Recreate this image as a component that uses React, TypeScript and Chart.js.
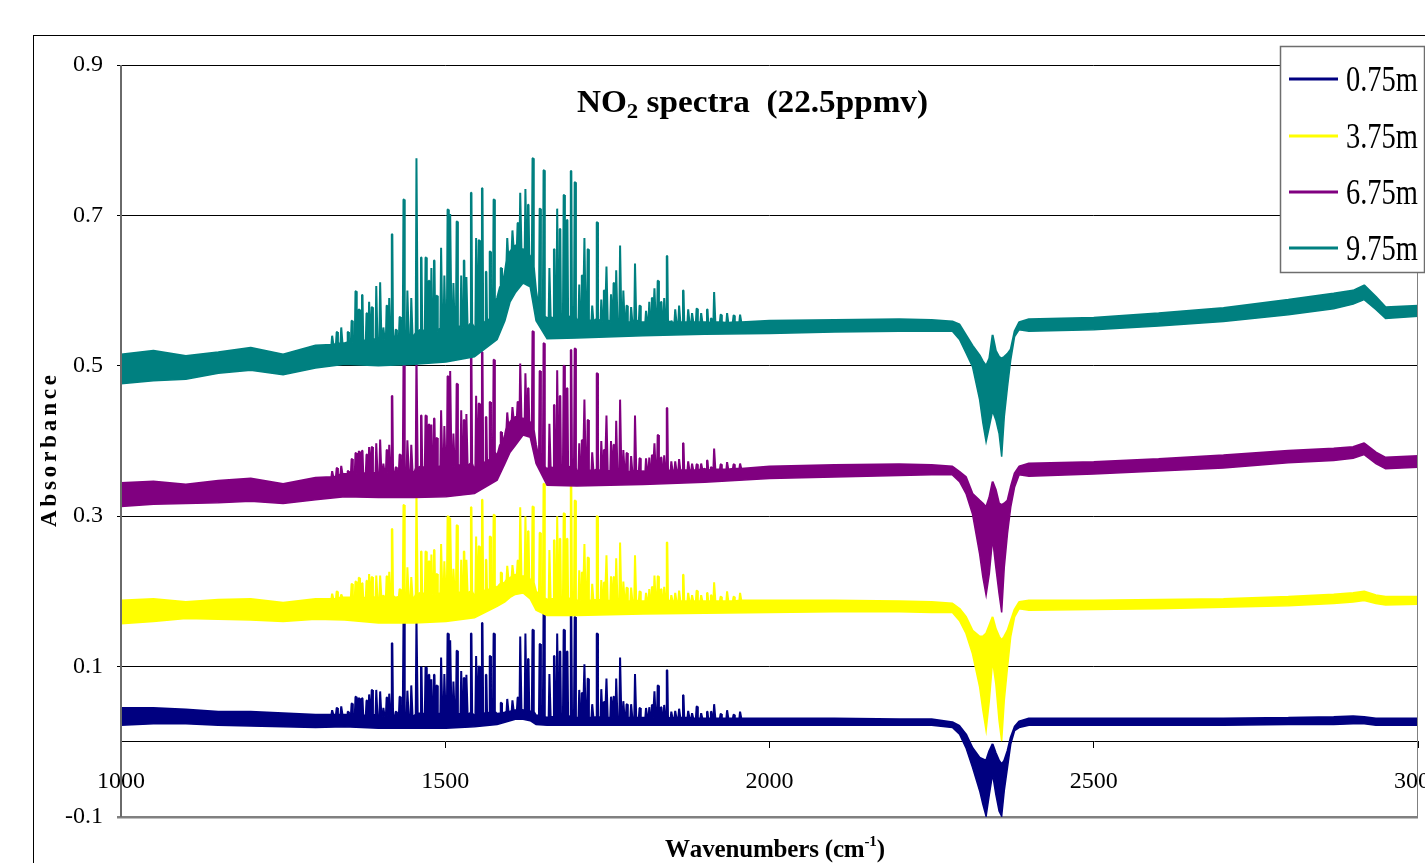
import React, { useEffect, useRef } from "react";
import { Chart, registerables } from "chart.js";

Chart.register(...registerables);

const FONT = "'Liberation Serif', 'Times New Roman', Times, serif";

const seriesLabels = ["0.75m", "3.75m", "6.75m", "9.75m"];
const seriesColors = ["#000080", "#FFFF00", "#800080", "#008080"];

const xTickValues = [1000, 1500, 2000, 2500, 3000];
const yTickValues = [-0.1, 0.1, 0.3, 0.5, 0.7, 0.9];

// envelope of the noise band (wavenumbers in cm-1)
const bandWavenumbers = [1000, 1050, 1100, 1150, 1200, 1250, 1300, 1345, 1397, 1452, 1501, 1545, 1580, 1592, 1600, 1608, 1620, 1631, 1640, 1657, 1703, 1805, 1900, 2000, 2100, 2200, 2250, 2282, 2293, 2303, 2313, 2324, 2329, 2334, 2339, 2344, 2349, 2354, 2358, 2362, 2367, 2372, 2378, 2385, 2400, 2500, 2600, 2700, 2800, 2870, 2900, 2917, 2935, 2950, 3000];

const tealUpper = [0.515, 0.520, 0.513, 0.518, 0.524, 0.515, 0.527, 0.530, 0.534, 0.540, 0.545, 0.550, 0.590, 0.625, 0.652, 0.660, 0.655, 0.645, 0.600, 0.563, 0.560, 0.558, 0.558, 0.560, 0.561, 0.562, 0.561, 0.559, 0.555, 0.541, 0.527, 0.514, 0.506, 0.500, 0.510, 0.541, 0.520, 0.512, 0.510, 0.512, 0.516, 0.522, 0.546, 0.558, 0.562, 0.564, 0.570, 0.577, 0.588, 0.596, 0.600, 0.607, 0.592, 0.578, 0.580];
const tealLower = [0.476, 0.480, 0.482, 0.490, 0.494, 0.488, 0.497, 0.502, 0.500, 0.502, 0.505, 0.512, 0.535, 0.560, 0.585, 0.597, 0.610, 0.605, 0.560, 0.536, 0.537, 0.540, 0.542, 0.543, 0.545, 0.546, 0.546, 0.546, 0.535, 0.517, 0.499, 0.455, 0.424, 0.399, 0.419, 0.440, 0.428, 0.410, 0.379, 0.432, 0.472, 0.508, 0.539, 0.548, 0.546, 0.548, 0.553, 0.559, 0.568, 0.576, 0.582, 0.588, 0.575, 0.563, 0.566];

const purpleUpper = [0.344, 0.346, 0.342, 0.347, 0.350, 0.343, 0.351, 0.356, 0.357, 0.357, 0.358, 0.360, 0.380, 0.408, 0.425, 0.432, 0.430, 0.425, 0.395, 0.362, 0.358, 0.360, 0.363, 0.366, 0.368, 0.369, 0.368, 0.366, 0.359, 0.352, 0.330, 0.321, 0.317, 0.312, 0.325, 0.346, 0.335, 0.317, 0.315, 0.317, 0.321, 0.339, 0.357, 0.366, 0.370, 0.372, 0.376, 0.381, 0.387, 0.390, 0.392, 0.397, 0.385, 0.378, 0.380];
const purpleLower = [0.313, 0.316, 0.317, 0.318, 0.320, 0.317, 0.322, 0.326, 0.325, 0.325, 0.326, 0.330, 0.348, 0.370, 0.385, 0.394, 0.408, 0.405, 0.370, 0.341, 0.340, 0.342, 0.345, 0.350, 0.352, 0.354, 0.355, 0.355, 0.346, 0.330, 0.303, 0.250, 0.219, 0.195, 0.224, 0.270, 0.232, 0.197, 0.172, 0.232, 0.277, 0.312, 0.339, 0.355, 0.353, 0.356, 0.360, 0.364, 0.371, 0.374, 0.377, 0.382, 0.370, 0.363, 0.365];

const yellowUpper = [0.188, 0.190, 0.186, 0.189, 0.190, 0.185, 0.190, 0.192, 0.190, 0.190, 0.190, 0.192, 0.205, 0.212, 0.218, 0.222, 0.220, 0.215, 0.200, 0.189, 0.187, 0.187, 0.187, 0.188, 0.188, 0.187, 0.186, 0.184, 0.177, 0.166, 0.148, 0.140, 0.140, 0.144, 0.155, 0.166, 0.150, 0.140, 0.135, 0.140, 0.148, 0.161, 0.176, 0.186, 0.188, 0.188, 0.189, 0.190, 0.193, 0.196, 0.198, 0.200, 0.195, 0.193, 0.193];
const yellowLower = [0.157, 0.160, 0.164, 0.163, 0.162, 0.160, 0.163, 0.162, 0.158, 0.158, 0.160, 0.165, 0.180, 0.186, 0.192, 0.196, 0.198, 0.190, 0.175, 0.168, 0.168, 0.170, 0.171, 0.172, 0.173, 0.173, 0.172, 0.172, 0.161, 0.144, 0.117, 0.073, 0.042, 0.015, 0.055, 0.108, 0.077, 0.028, 0.001, 0.055, 0.099, 0.140, 0.166, 0.177, 0.175, 0.176, 0.177, 0.179, 0.181, 0.184, 0.186, 0.188, 0.184, 0.182, 0.183];

const navyUpper = [0.045, 0.045, 0.043, 0.040, 0.040, 0.038, 0.036, 0.036, 0.034, 0.034, 0.034, 0.034, 0.037, 0.039, 0.040, 0.042, 0.042, 0.040, 0.035, 0.032, 0.032, 0.032, 0.031, 0.031, 0.031, 0.030, 0.030, 0.026, 0.021, 0.010, -0.008, -0.021, -0.023, -0.025, -0.012, -0.003, -0.015, -0.025, -0.030, -0.025, -0.012, 0.006, 0.020, 0.027, 0.031, 0.031, 0.031, 0.031, 0.032, 0.033, 0.034, 0.033, 0.031, 0.031, 0.031];
const navyLower = [0.022, 0.024, 0.024, 0.022, 0.021, 0.020, 0.019, 0.020, 0.018, 0.018, 0.018, 0.020, 0.023, 0.026, 0.028, 0.030, 0.030, 0.028, 0.023, 0.022, 0.022, 0.022, 0.022, 0.022, 0.022, 0.022, 0.022, 0.019, 0.010, -0.008, -0.034, -0.065, -0.083, -0.099, -0.070, -0.043, -0.070, -0.092, -0.099, -0.065, -0.034, -0.003, 0.015, 0.019, 0.022, 0.022, 0.022, 0.022, 0.023, 0.023, 0.024, 0.024, 0.022, 0.022, 0.022];

// strong NO2 absorption lines (cm-1), shared by all path lengths
const lineWavenumbers = [1340, 1350, 1362, 1372, 1387, 1394, 1400, 1405, 1418, 1424, 1430, 1436, 1448, 1456, 1463, 1470, 1475, 1487, 1494, 1499, 1504, 1508, 1513, 1518, 1525, 1533, 1540, 1548, 1552, 1557, 1563, 1569, 1575, 1616, 1624, 1628, 1635, 1646, 1652, 1661, 1668, 1673, 1677, 1683, 1688, 1694, 1700, 1707, 1715, 1720, 1727, 1734, 1741, 1749, 1756, 1764, 1770, 1780, 1787, 1793, 1800, 1810, 1823, 1828, 1842, 1849, 1867, 1888, 1910, 1915, 1935, 1955];

const tealBases = [0.530, 0.531, 0.534, 0.533, 0.536, 0.534, 0.537, 0.535, 0.540, 0.537, 0.538, 0.542, 0.540, 0.544, 0.548, 0.545, 0.543, 0.546, 0.550, 0.548, 0.552, 0.555, 0.550, 0.553, 0.551, 0.550, 0.556, 0.552, 0.555, 0.560, 0.556, 0.562, 0.580, 0.655, 0.650, 0.648, 0.632, 0.575, 0.566, 0.565, 0.563, 0.566, 0.562, 0.565, 0.561, 0.566, 0.564, 0.560, 0.562, 0.561, 0.559, 0.562, 0.559, 0.561, 0.558, 0.560, 0.562, 0.558, 0.558, 0.561, 0.558, 0.558, 0.559, 0.558, 0.560, 0.557, 0.558, 0.558, 0.557, 0.558, 0.557, 0.558];
const tealPeaks = [0.551, 0.545, 0.599, 0.594, 0.578, 0.606, 0.611, 0.551, 0.675, 0.548, 0.565, 0.721, 0.590, 0.776, 0.644, 0.644, 0.613, 0.593, 0.657, 0.620, 0.708, 0.702, 0.610, 0.692, 0.620, 0.618, 0.730, 0.670, 0.667, 0.736, 0.625, 0.652, 0.721, 0.730, 0.735, 0.714, 0.776, 0.709, 0.760, 0.630, 0.655, 0.709, 0.682, 0.727, 0.694, 0.759, 0.744, 0.608, 0.670, 0.655, 0.580, 0.691, 0.588, 0.632, 0.595, 0.627, 0.660, 0.580, 0.578, 0.636, 0.580, 0.573, 0.603, 0.613, 0.646, 0.560, 0.600, 0.576, 0.563, 0.598, 0.570, 0.568];

const purpleBases = [0.356, 0.356, 0.357, 0.357, 0.358, 0.357, 0.358, 0.357, 0.360, 0.358, 0.359, 0.362, 0.360, 0.364, 0.366, 0.364, 0.362, 0.364, 0.367, 0.365, 0.368, 0.370, 0.366, 0.368, 0.367, 0.366, 0.370, 0.368, 0.370, 0.373, 0.370, 0.375, 0.385, 0.430, 0.428, 0.426, 0.415, 0.375, 0.366, 0.365, 0.364, 0.366, 0.363, 0.365, 0.362, 0.366, 0.364, 0.361, 0.362, 0.361, 0.360, 0.362, 0.360, 0.361, 0.359, 0.360, 0.362, 0.359, 0.359, 0.361, 0.359, 0.359, 0.360, 0.360, 0.361, 0.360, 0.361, 0.361, 0.361, 0.362, 0.362, 0.363];
const purplePeaks = [0.367, 0.360, 0.384, 0.387, 0.392, 0.397, 0.402, 0.370, 0.460, 0.365, 0.382, 0.501, 0.395, 0.518, 0.434, 0.434, 0.422, 0.404, 0.441, 0.420, 0.486, 0.493, 0.410, 0.476, 0.441, 0.436, 0.513, 0.460, 0.450, 0.518, 0.432, 0.452, 0.508, 0.503, 0.490, 0.470, 0.546, 0.493, 0.530, 0.423, 0.448, 0.494, 0.460, 0.500, 0.470, 0.521, 0.523, 0.397, 0.455, 0.428, 0.385, 0.490, 0.400, 0.434, 0.400, 0.427, 0.455, 0.384, 0.380, 0.434, 0.377, 0.377, 0.397, 0.408, 0.444, 0.373, 0.397, 0.369, 0.365, 0.390, 0.372, 0.370];

const yellowBases = [0.192, 0.192, 0.192, 0.191, 0.193, 0.191, 0.192, 0.191, 0.194, 0.192, 0.193, 0.195, 0.193, 0.196, 0.198, 0.196, 0.195, 0.196, 0.198, 0.197, 0.199, 0.200, 0.197, 0.199, 0.198, 0.197, 0.200, 0.198, 0.200, 0.202, 0.200, 0.203, 0.207, 0.221, 0.220, 0.218, 0.212, 0.196, 0.191, 0.190, 0.190, 0.191, 0.189, 0.190, 0.189, 0.191, 0.190, 0.188, 0.189, 0.188, 0.188, 0.189, 0.188, 0.188, 0.187, 0.188, 0.189, 0.187, 0.187, 0.188, 0.187, 0.187, 0.188, 0.187, 0.188, 0.187, 0.187, 0.187, 0.187, 0.187, 0.187, 0.188];
const yellowPeaks = [0.196, 0.192, 0.213, 0.211, 0.219, 0.221, 0.221, 0.195, 0.283, 0.192, 0.203, 0.315, 0.219, 0.335, 0.253, 0.253, 0.240, 0.223, 0.263, 0.240, 0.300, 0.298, 0.230, 0.288, 0.242, 0.242, 0.312, 0.273, 0.260, 0.322, 0.242, 0.273, 0.302, 0.312, 0.300, 0.280, 0.313, 0.278, 0.343, 0.255, 0.268, 0.300, 0.270, 0.304, 0.270, 0.341, 0.321, 0.228, 0.263, 0.245, 0.210, 0.300, 0.215, 0.248, 0.220, 0.244, 0.265, 0.205, 0.205, 0.248, 0.200, 0.198, 0.221, 0.220, 0.265, 0.195, 0.222, 0.201, 0.195, 0.212, 0.200, 0.198];

const navyBases = [0.036, 0.036, 0.035, 0.035, 0.036, 0.035, 0.035, 0.034, 0.036, 0.034, 0.035, 0.036, 0.035, 0.037, 0.038, 0.036, 0.035, 0.036, 0.038, 0.037, 0.038, 0.039, 0.036, 0.037, 0.037, 0.036, 0.038, 0.037, 0.038, 0.039, 0.037, 0.039, 0.040, 0.043, 0.042, 0.042, 0.040, 0.035, 0.033, 0.033, 0.033, 0.034, 0.033, 0.034, 0.033, 0.034, 0.033, 0.032, 0.033, 0.032, 0.032, 0.033, 0.032, 0.032, 0.032, 0.032, 0.033, 0.032, 0.032, 0.032, 0.032, 0.032, 0.032, 0.032, 0.032, 0.031, 0.032, 0.031, 0.031, 0.031, 0.031, 0.031];
const navyPeaks = [0.047, 0.040, 0.060, 0.058, 0.069, 0.069, 0.067, 0.045, 0.131, 0.040, 0.060, 0.158, 0.075, 0.167, 0.099, 0.099, 0.089, 0.075, 0.112, 0.090, 0.144, 0.135, 0.080, 0.121, 0.094, 0.089, 0.144, 0.114, 0.100, 0.158, 0.089, 0.114, 0.144, 0.140, 0.144, 0.110, 0.149, 0.130, 0.176, 0.090, 0.114, 0.144, 0.120, 0.149, 0.120, 0.171, 0.166, 0.069, 0.103, 0.084, 0.050, 0.144, 0.070, 0.084, 0.060, 0.084, 0.112, 0.050, 0.050, 0.090, 0.045, 0.045, 0.067, 0.075, 0.095, 0.040, 0.062, 0.047, 0.040, 0.050, 0.042, 0.040];

// weaker lines between the strong ones
const minorWavenumbers = [1326, 1333, 1356, 1367, 1379, 1383, 1410, 1414, 1442, 1479, 1483, 1529, 1586, 1596, 1604, 1612, 1711, 1745, 1760, 1775, 1815, 1819, 1833, 1838, 1855, 1861, 1875, 1881, 1895, 1904, 1925, 1945];

const tealMinorBases = [0.528, 0.529, 0.531, 0.533, 0.534, 0.535, 0.537, 0.538, 0.541, 0.545, 0.546, 0.552, 0.605, 0.640, 0.655, 0.660, 0.562, 0.561, 0.560, 0.560, 0.559, 0.559, 0.559, 0.559, 0.558, 0.558, 0.558, 0.558, 0.558, 0.558, 0.558, 0.558];
const tealMinorPeaks = [0.540, 0.545, 0.560, 0.575, 0.570, 0.585, 0.580, 0.590, 0.600, 0.630, 0.640, 0.640, 0.630, 0.670, 0.680, 0.690, 0.620, 0.600, 0.610, 0.600, 0.585, 0.590, 0.585, 0.590, 0.575, 0.580, 0.575, 0.570, 0.570, 0.575, 0.568, 0.567];

const purpleMinorBases = [0.352, 0.353, 0.356, 0.357, 0.357, 0.358, 0.358, 0.359, 0.361, 0.364, 0.365, 0.368, 0.395, 0.418, 0.428, 0.432, 0.362, 0.361, 0.361, 0.360, 0.360, 0.360, 0.360, 0.360, 0.361, 0.361, 0.361, 0.361, 0.362, 0.362, 0.362, 0.363];
const purpleMinorPeaks = [0.360, 0.364, 0.376, 0.386, 0.382, 0.392, 0.388, 0.395, 0.401, 0.422, 0.430, 0.428, 0.412, 0.438, 0.445, 0.452, 0.401, 0.388, 0.395, 0.388, 0.378, 0.381, 0.378, 0.381, 0.373, 0.376, 0.373, 0.370, 0.370, 0.374, 0.369, 0.369];

const yellowMinorBases = [0.190, 0.190, 0.192, 0.192, 0.192, 0.192, 0.193, 0.193, 0.195, 0.196, 0.197, 0.199, 0.210, 0.216, 0.220, 0.222, 0.189, 0.188, 0.188, 0.188, 0.187, 0.187, 0.187, 0.187, 0.187, 0.187, 0.187, 0.187, 0.187, 0.187, 0.187, 0.187];
const yellowMinorPeaks = [0.197, 0.200, 0.210, 0.218, 0.214, 0.223, 0.220, 0.226, 0.232, 0.249, 0.255, 0.253, 0.225, 0.234, 0.235, 0.241, 0.225, 0.212, 0.219, 0.213, 0.203, 0.206, 0.203, 0.206, 0.198, 0.201, 0.198, 0.195, 0.195, 0.198, 0.193, 0.193];

const navyMinorBases = [0.036, 0.036, 0.035, 0.035, 0.035, 0.035, 0.035, 0.035, 0.036, 0.036, 0.037, 0.037, 0.038, 0.040, 0.041, 0.042, 0.033, 0.032, 0.032, 0.032, 0.032, 0.032, 0.032, 0.032, 0.032, 0.032, 0.032, 0.031, 0.031, 0.031, 0.031, 0.031];
const navyMinorPeaks = [0.042, 0.045, 0.051, 0.058, 0.055, 0.063, 0.059, 0.064, 0.068, 0.083, 0.089, 0.085, 0.052, 0.057, 0.055, 0.059, 0.065, 0.053, 0.060, 0.054, 0.046, 0.049, 0.046, 0.049, 0.041, 0.044, 0.041, 0.038, 0.038, 0.040, 0.037, 0.036];

type Pt = { x: number; y: number };

function addLines(pts: Pt[], positions: number[], bases: number[], peaks: number[]) {
  positions.forEach((x, j) => {
    pts.push(
      { x: x - 1.5, y: bases[j] },
      { x: x - 0.4, y: peaks[j] },
      { x: x + 0.4, y: peaks[j] },
      { x: x + 1.5, y: bases[j] }
    );
  });
}

function buildUpper(s: any): Pt[] {
  const pts: Pt[] = bandWavenumbers.map((x, i) => ({ x, y: s.upper[i] }));
  addLines(pts, lineWavenumbers, s.bases, s.peaks);
  addLines(pts, minorWavenumbers, s.minorBases, s.minorPeaks);
  pts.sort((a, b) => a.x - b.x);
  return pts;
}
function buildLower(lower: number[]): Pt[] {
  return bandWavenumbers.map((x, i) => ({ x, y: lower[i] }));
}

// drawn top-most first: teal, purple, yellow, navy
const seriesOrder = [
  { idx: 3, upper: tealUpper, lower: tealLower, bases: tealBases, peaks: tealPeaks, minorBases: tealMinorBases, minorPeaks: tealMinorPeaks },
  { idx: 2, upper: purpleUpper, lower: purpleLower, bases: purpleBases, peaks: purplePeaks, minorBases: purpleMinorBases, minorPeaks: purpleMinorPeaks },
  { idx: 1, upper: yellowUpper, lower: yellowLower, bases: yellowBases, peaks: yellowPeaks, minorBases: yellowMinorBases, minorPeaks: yellowMinorPeaks },
  { idx: 0, upper: navyUpper, lower: navyLower, bases: navyBases, peaks: navyPeaks, minorBases: navyMinorBases, minorPeaks: navyMinorPeaks },
];

type Piece = { text: string; font: string; dy?: number };

function drawPieces(ctx: CanvasRenderingContext2D, pieces: Piece[], x: number, baseline: number, targetWidth: number) {
  let total = 0;
  const widths = pieces.map((p) => {
    ctx.font = p.font;
    const w = ctx.measureText(p.text).width;
    total += w;
    return w;
  });
  const sx = targetWidth / total;
  ctx.save();
  ctx.translate(x, baseline);
  ctx.scale(sx, 1);
  let cx = 0;
  pieces.forEach((p, i) => {
    ctx.font = p.font;
    ctx.fillText(p.text, cx, p.dy || 0);
    cx += widths[i];
  });
  ctx.restore();
}

function drawSpaced(ctx: CanvasRenderingContext2D, pieces: Piece[], targetWidth: number) {
  const chars: { ch: string; font: string; dy: number; w: number }[] = [];
  pieces.forEach((p) => {
    ctx.font = p.font;
    for (const ch of p.text) chars.push({ ch, font: p.font, dy: p.dy || 0, w: ctx.measureText(ch).width });
  });
  const natural = chars.reduce((a, c) => a + c.w, 0);
  const gap = (targetWidth - natural) / (chars.length - 1);
  let cx = 0;
  chars.forEach((c) => {
    ctx.font = c.font;
    ctx.fillText(c.ch, cx, c.dy);
    cx += c.w + gap;
  });
}

const decorPlugin = {
  id: "decor",
  beforeDraw(chart: any) {
    const ctx: CanvasRenderingContext2D = chart.ctx;
    ctx.save();
    ctx.fillStyle = "#ffffff";
    ctx.fillRect(0, 0, chart.width, chart.height);
    ctx.strokeStyle = "#000000";
    ctx.lineWidth = 1;
    ctx.strokeRect(33.5, 35.5, chart.width + 20, chart.height + 20);
    ctx.restore();
  },
  afterDatasetsDraw(chart: any) {
    const ctx: CanvasRenderingContext2D = chart.ctx;
    const a = chart.chartArea;
    ctx.save();
    ctx.strokeStyle = "#6a6a6a";
    ctx.lineWidth = 2;
    ctx.beginPath();
    ctx.moveTo(a.left, a.top);
    ctx.lineTo(a.left, a.bottom);
    ctx.stroke();
    ctx.strokeStyle = "#808080";
    ctx.lineWidth = 1;
    ctx.beginPath();
    ctx.moveTo(a.right - 0.5, a.top);
    ctx.lineTo(a.right - 0.5, a.bottom);
    ctx.stroke();
    ctx.restore();
  },
  afterDraw(chart: any) {
    const ctx: CanvasRenderingContext2D = chart.ctx;
    ctx.save();
    ctx.fillStyle = "#000";
    ctx.textAlign = "left";
    ctx.textBaseline = "alphabetic";
    // title
    drawPieces(
      ctx,
      [
        { text: "NO", font: `bold 32px ${FONT}` },
        { text: "2", font: `bold 22px ${FONT}`, dy: 6 },
        { text: " spectra  (22.5ppmv)", font: `bold 32px ${FONT}` },
      ],
      577,
      112,
      351
    );
    // x title
    ctx.save();
    ctx.translate(665, 857);
    drawSpaced(
      ctx,
      [
        { text: "Wavenumbers (cm", font: `bold 25px ${FONT}` },
        { text: "-1", font: `bold 15px ${FONT}`, dy: -11 },
        { text: ")", font: `bold 25px ${FONT}` },
      ],
      220
    );
    ctx.restore();
    // y title
    ctx.save();
    ctx.translate(56, 527);
    ctx.rotate(-Math.PI / 2);
    drawSpaced(ctx, [{ text: "Absorbance", font: `bold 23px ${FONT}` }], 152);
    ctx.restore();
    // legend
    const bx = 1280, by = 46, bw = 144, bh = 226;
    ctx.fillStyle = "#ffffff";
    ctx.fillRect(bx, by, bw, bh);
    ctx.strokeStyle = "#6e6e6e";
    ctx.lineWidth = 1.5;
    ctx.strokeRect(bx + 0.5, by + 0.5, bw, bh);
    const rowY = [79, 136, 192, 248];
    seriesLabels.forEach((label, i) => {
      ctx.strokeStyle = seriesColors[i];
      ctx.lineWidth = 3;
      ctx.beginPath();
      ctx.moveTo(1289, rowY[i]);
      ctx.lineTo(1338, rowY[i]);
      ctx.stroke();
      ctx.fillStyle = "#000";
      drawPieces(ctx, [{ text: label, font: `35px ${FONT}` }], 1346, rowY[i] + 12, 72);
    });
    ctx.restore();
  },
};

export default function App() {
  const ref = useRef<HTMLCanvasElement | null>(null);
  useEffect(() => {
    if (!ref.current) return;
    const datasets: any[] = [];
    seriesOrder.forEach((s) => {
      const color = seriesColors[s.idx];
      datasets.push({
        label: seriesLabels[s.idx] + " low",
        data: buildLower(s.lower),
        borderColor: color,
        backgroundColor: color,
        borderWidth: 1.5,
        pointRadius: 0,
        fill: false,
      });
      datasets.push({
        label: seriesLabels[s.idx],
        data: buildUpper(s),
        borderColor: color,
        backgroundColor: color,
        borderWidth: 2,
        borderJoinStyle: "bevel",
        pointRadius: 0,
        fill: "-1",
      });
    });
    const chart = new Chart(ref.current, {
      type: "line",
      data: { datasets },
      plugins: [decorPlugin],
      options: {
        animation: false,
        responsive: false,
        devicePixelRatio: 1,
        events: [],
        layout: { padding: { top: 65, bottom: 46, left: 0, right: 7 } },
        elements: { line: { tension: 0 }, point: { radius: 0 } },
        plugins: {
          legend: { display: false },
          title: { display: false },
          tooltip: { enabled: false },
        },
        scales: {
          x: {
            type: "linear",
            min: 1000,
            max: 3000,
            position: { y: 0 } as any,
            afterBuildTicks: (s: any) => {
              s.ticks = xTickValues.map((v) => ({ value: v }));
            },
            afterFit: (s: any) => {
              s.paddingLeft = 0;
              s.paddingRight = 0;
            },
            ticks: {
              autoSkip: false,
              maxRotation: 0,
              padding: 20,
              color: "#000",
              font: { family: FONT, size: 24 },
              callback: (v: any) => String(v),
            },
            grid: { display: true, drawOnChartArea: false, drawTicks: true, tickLength: 6, color: "#000", lineWidth: 1 },
            border: { display: true, color: "#000", width: 1 },
          },
          y: {
            type: "linear",
            min: -0.1,
            max: 0.9,
            afterBuildTicks: (s: any) => {
              s.ticks = yTickValues.map((v) => ({ value: v }));
            },
            afterFit: (s: any) => {
              s.width = 121;
              s.paddingTop = 0;
              s.paddingBottom = 0;
            },
            ticks: {
              padding: 14,
              color: "#000",
              font: { family: FONT, size: 24 },
              callback: (v: any) => Number(v).toFixed(1),
            },
            grid: {
              drawTicks: true,
              tickLength: 4,
              color: (c: any) => (c.tick && c.tick.value < 0 ? "#808080" : "#000"),
              lineWidth: (c: any) => (c.tick && c.tick.value < 0 ? 2.5 : 1),
            },
            border: { display: false },
          },
        },
      } as any,
    });
    return () => chart.destroy();
  }, []);
  return (
    <div style={{ position: "fixed", left: 0, top: 0, width: 1425, height: 863, background: "#fff" }}>
      <canvas ref={ref} width={1425} height={863} style={{ display: "block", width: 1425, height: 863 }} />
    </div>
  );
}
